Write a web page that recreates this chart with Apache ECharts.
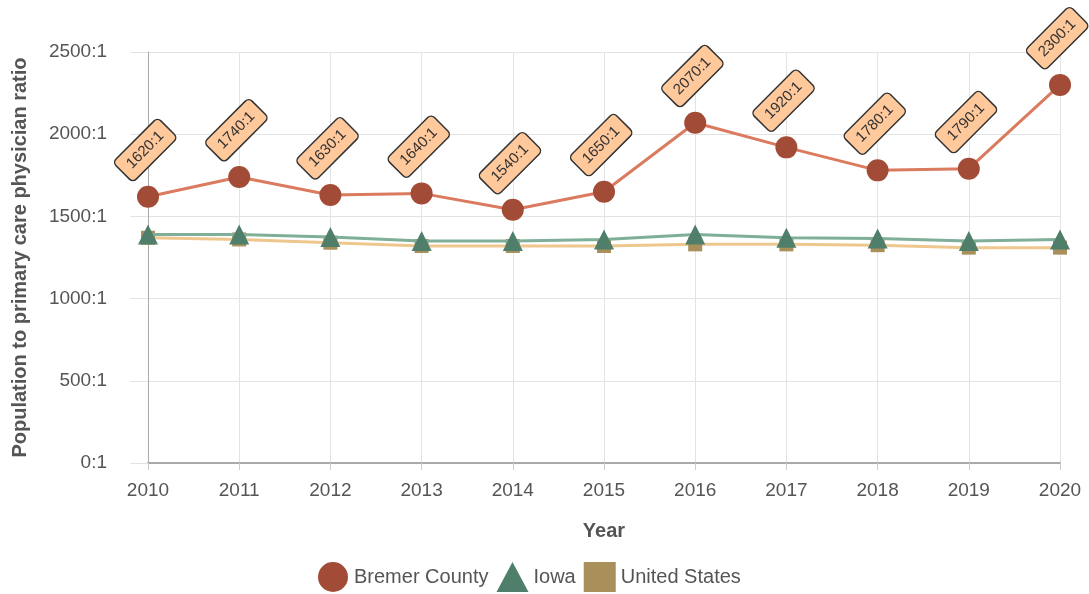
<!DOCTYPE html>
<html>
<head>
<meta charset="utf-8">
<script src="https://cdn.jsdelivr.net/npm/echarts@6/dist/echarts.min.js"></script>
<style>
  html, body { margin: 0; padding: 0; background: #fff; }
  #chart { width: 1089px; height: 594px; }
</style>
</head>
<body>
<div id="chart"></div>
<script>
var years = ["2010", "2011", "2012", "2013", "2014", "2015", "2016", "2017", "2018", "2019", "2020"];
var bremer = [1620, 1740, 1630, 1640, 1540, 1650, 2070, 1920, 1780, 1790, 2300];
var iowa = [1390, 1390, 1375, 1350, 1350, 1360, 1390, 1370, 1365, 1350, 1360];
var us = [1370, 1360, 1340, 1320, 1320, 1320, 1330, 1330, 1325, 1310, 1310];

var chart = echarts.init(document.getElementById("chart"));

var option = {
  animation: false,
  textStyle: { fontFamily: "Liberation Sans, Arial, sans-serif" },
  grid: { left: 148, right: 29, top: 52, bottom: 131, outerBoundsMode: "none" },
  legend: {
    top: 557,
    left: 313,
    itemWidth: 32,
    itemHeight: 30,
    itemGap: 8,
    textStyle: { fontSize: 20, color: "#555" },
    data: [
      { name: "Bremer County", icon: "circle" },
      { name: "Iowa", icon: "triangle" },
      { name: "United States", icon: "rect" }
    ]
  },
  xAxis: {
    type: "category",
    data: years,
    boundaryGap: false,
    name: "Year",
    nameLocation: "middle",
    nameGap: 58,
    nameTextStyle: { fontSize: 20, fontWeight: "bold", color: "#555" },
    axisLine: { lineStyle: { color: "#aaa", width: 2 } },
    axisTick: { show: true, length: 7, lineStyle: { color: "#ccc" } },
    axisLabel: { fontSize: 19, color: "#555", margin: 18 },
    splitLine: { show: true, lineStyle: { color: "#e3e3e3" } }
  },
  yAxis: {
    type: "value",
    min: 0,
    max: 2500,
    interval: 500,
    name: "Population to primary care physician ratio",
    nameLocation: "middle",
    nameGap: 118,
    nameTextStyle: { fontSize: 20, fontWeight: "bold", color: "#555" },
    axisLine: { show: true, lineStyle: { color: "#aaa" } },
    axisTick: { show: true, length: 18, lineStyle: { color: "#e3e3e3" } },
    axisLabel: {
      fontSize: 19,
      color: "#555",
      margin: 41,
      formatter: function (v) { return v + ":1"; }
    },
    splitLine: { lineStyle: { color: "#e3e3e3" } }
  },
  series: [
    {
      name: "United States",
      type: "line",
      data: us,
      symbol: "rect",
      symbolSize: 14,
      z: 2,
      lineStyle: { color: "#EEC78E", width: 3 },
      itemStyle: { color: "#A98F5A" }
    },
    {
      name: "Iowa",
      type: "line",
      data: iowa,
      symbol: "triangle",
      symbolSize: 20,
      z: 3,
      lineStyle: { color: "#7FAF98", width: 3 },
      itemStyle: { color: "#4F7F6A" }
    },
    {
      name: "Bremer County",
      type: "line",
      data: bremer,
      symbol: "circle",
      symbolSize: 22,
      z: 4,
      lineStyle: { color: "#DA7A5E", width: 3 },
      itemStyle: { color: "#A24B36" },
      label: {
        show: true,
        position: "inside",
        // offset is applied in the rotated frame
        offset: [31, -35],
        rotate: 45,
        formatter: "{c}:1",
        fontSize: 15,
        color: "#333",
        backgroundColor: "#FFC99C",
        borderColor: "#333",
        borderWidth: 1.5,
        borderRadius: 4,
        padding: [6, 8]
      }
    }
  ]
};

chart.setOption(option);
</script>
</body>
</html>
